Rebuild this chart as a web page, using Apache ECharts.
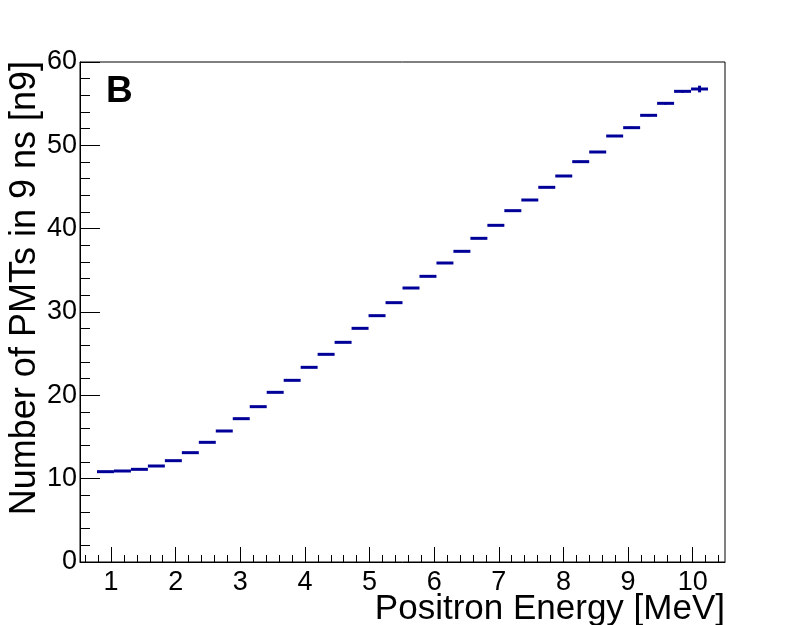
<!DOCTYPE html>
<html>
<head>
<meta charset="utf-8">
<script src="https://cdn.jsdelivr.net/npm/echarts@6/dist/echarts.min.js"></script>
<style>
html,body{margin:0;padding:0;background:#fff;}
#chart{width:806px;height:625px;}
</style>
</head>
<body>
<div id="chart"></div>
<script>
// Histogram definition
const X_MIN = 0.52;
const X_MAX = 10.5;
const N_BINS = 38;
const FIRST_FILLED_BIN = 1;

// Mean number of PMTs per bin (bins 1..36)
const n9Values = [
  10.84, 10.92, 11.12, 11.52, 12.16, 13.12, 14.36, 15.72, 17.2,
  18.64, 20.36, 21.8, 23.36, 24.92, 26.36, 28.04, 29.56, 31.12,
  32.88, 34.28, 35.88, 37.28, 38.84, 40.4, 42.16, 43.44, 44.96,
  46.32, 48.04, 49.2, 51.12, 52.12, 53.6, 55.04, 56.48, 56.76
];
const n9Errors = [
  0.05, 0.05, 0.05, 0.05, 0.05, 0.05, 0.05, 0.05, 0.05,
  0.05, 0.05, 0.05, 0.05, 0.05, 0.05, 0.06, 0.06, 0.06,
  0.06, 0.07, 0.07, 0.07, 0.08, 0.08, 0.08, 0.09, 0.09,
  0.1, 0.1, 0.1, 0.11, 0.12, 0.12, 0.14, 0.16, 0.4
];

const xMajorTicks = [1, 2, 3, 4, 5, 6, 7, 8, 9, 10];
const xMinorTicks = [0.6, 0.8, 1.2, 1.4, 1.6, 1.8, 2.2, 2.4, 2.6, 2.8, 3.2, 3.4, 3.6, 3.8,
  4.2, 4.4, 4.6, 4.8, 5.2, 5.4, 5.6, 5.8, 6.2, 6.4, 6.6, 6.8, 7.2, 7.4, 7.6, 7.8,
  8.2, 8.4, 8.6, 8.8, 9.2, 9.4, 9.6, 9.8, 10.2, 10.4];

const xTitle = 'Positron Energy [MeV]';
const yTitle = 'Number of PMTs in 9 ns [n9]';
const panelLabel = 'B';

const binWidth = (X_MAX - X_MIN) / N_BINS;
const histData = n9Values.map((v, i) => {
  const b = FIRST_FILLED_BIN + i;
  const lo = X_MIN + b * binWidth;
  return [lo, lo + binWidth, v, n9Errors[i]];
});

const FONT = 'Liberation Sans, Arial, Helvetica, sans-serif';
const chart = echarts.init(document.getElementById('chart'));

const option = {
  backgroundColor: '#fff',
  animation: false,
  grid: {
    left: 80, top: 62, right: 81, bottom: 63,
    show: true, borderColor: '#000', borderWidth: 1, backgroundColor: 'transparent'
  },
  xAxis: [{
    type: 'value', min: X_MIN, max: X_MAX,
    axisLine: { show: true, onZero: false, lineStyle: { color: '#000', width: 1 } },
    axisTick: { show: true, inside: true, length: 15, lineStyle: { color: '#000', width: 1 }, customValues: xMajorTicks },
    axisLabel: { show: true, color: '#000', fontSize: 27, fontFamily: FONT, margin: 7, customValues: xMajorTicks },
    splitLine: { show: false }
  }, {
    type: 'value', min: X_MIN, max: X_MAX, position: 'bottom',
    axisLine: { show: false },
    axisTick: { show: true, inside: true, length: 7, lineStyle: { color: '#000', width: 1 }, customValues: xMinorTicks },
    axisLabel: { show: false },
    splitLine: { show: false }
  }],
  yAxis: {
    type: 'value', min: 0, max: 60, interval: 10,
    axisLine: { show: true, onZero: false, lineStyle: { color: '#000', width: 1 } },
    axisTick: { show: true, inside: true, length: 20, lineStyle: { color: '#000', width: 1 } },
    minorTick: { show: true, splitNumber: 5, length: 10, lineStyle: { color: '#000', width: 1 } },
    axisLabel: { show: true, color: '#000', fontSize: 27, fontFamily: FONT, margin: 3 },
    splitLine: { show: false }
  },
  series: [{
    type: 'custom',
    xAxisIndex: 0,
    data: histData,
    encode: { x: [0, 1], y: 2 },
    renderItem: function (params, api) {
      const lo = api.value(0), hi = api.value(1), v = api.value(2), e = api.value(3);
      const p1 = api.coord([lo, v]);
      const p2 = api.coord([hi, v]);
      const c = api.coord([(lo + hi) / 2, v]);
      const up = api.coord([(lo + hi) / 2, v + e]);
      const dn = api.coord([(lo + hi) / 2, v - e]);
      const style = { stroke: '#000099', lineWidth: 3 };
      return {
        type: 'group',
        children: [
          { type: 'line', shape: { x1: p1[0], y1: p1[1], x2: p2[0], y2: p2[1] }, style: style },
          { type: 'line', shape: { x1: c[0], y1: up[1], x2: c[0], y2: dn[1] }, style: style }
        ]
      };
    }
  }],
  graphic: [
    { type: 'text', x: 725, y: 627, style: { text: xTitle, textAlign: 'right', textVerticalAlign: 'bottom', fontSize: 35, fontFamily: FONT, fill: '#000' } },
    { type: 'text', x: 25, y: 61, rotation: Math.PI / 2, style: { text: yTitle, textAlign: 'right', textVerticalAlign: 'middle', fontSize: 36, fontFamily: FONT, fill: '#000' } },
    { type: 'text', x: 106, y: 92, style: { text: panelLabel, textAlign: 'left', textVerticalAlign: 'middle', fontSize: 37, fontWeight: 'bold', fontFamily: FONT, fill: '#000' } }
  ]
};
chart.setOption(option);
</script>
</body>
</html>
